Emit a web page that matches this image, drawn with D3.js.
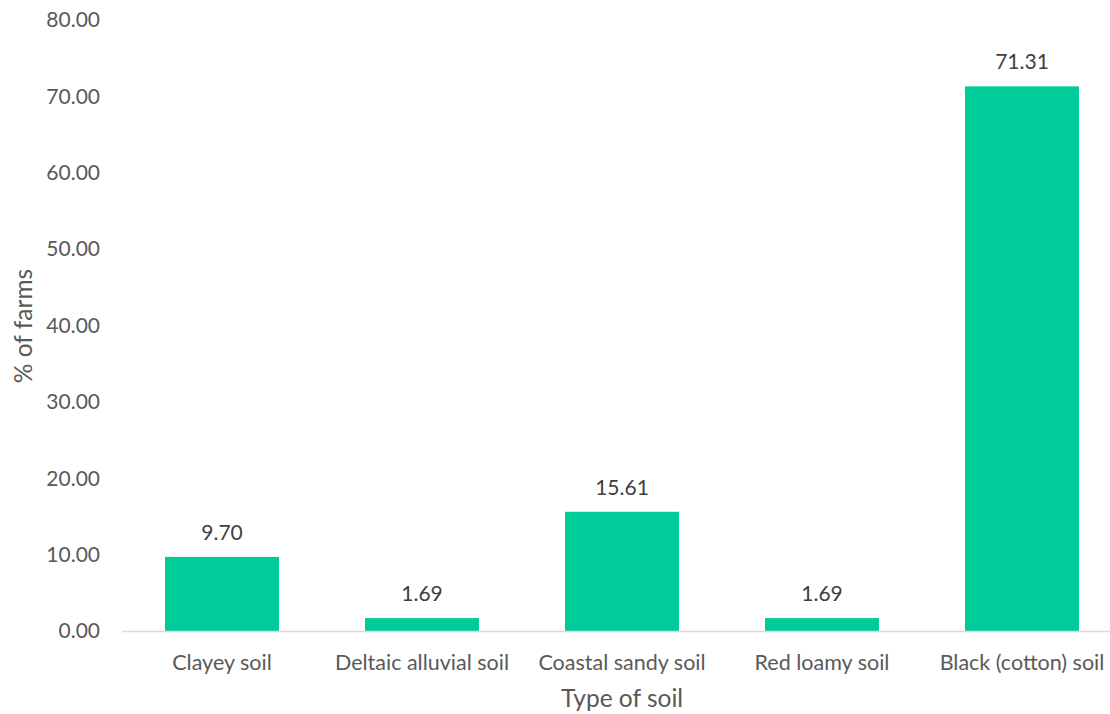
<!DOCTYPE html>
<html><head><meta charset="utf-8">
<script src="https://cdn.jsdelivr.net/npm/d3@7"></script>
<style>html,body{margin:0;padding:0;background:#fff;}</style>
</head><body>
<svg id="chart" width="1110" height="714"></svg>
<script>
const categories = ["Clayey soil","Deltaic alluvial soil","Coastal sandy soil","Red loamy soil","Black (cotton) soil"];
const values = [9.70, 1.69, 15.61, 1.69, 71.31];
const yTicks = [0,10,20,30,40,50,60,70,80];
const xTitle = "Type of soil";
const yTitle = "% of farms";

const font = "Lato, 'Open Sans', sans-serif";
const svg = d3.select("#chart");
const x = d3.scaleBand().domain(categories).range([122,1122]).paddingInner(0.43).paddingOuter(0.215);
const y = d3.scaleLinear().domain([0,80]).range([631,20]);

svg.append("g").selectAll("rect").data(values).join("rect")
  .attr("x",(d,i)=>x(categories[i])).attr("width",x.bandwidth())
  .attr("y",d=>y(d)).attr("height",d=>y(0)-y(d)).attr("fill","#00cc99");

svg.append("line").attr("x1",122).attr("x2",1110).attr("y1",y(0)+0.5).attr("y2",y(0)+0.5)
  .attr("stroke","#d9d9d9").attr("stroke-width",1.5);

svg.append("g").selectAll("text").data(yTicks).join("text")
  .attr("x",100).attr("y",d=>y(d)).attr("dy","0.35em").attr("text-anchor","end")
  .attr("font-family",font).attr("font-size",21).attr("fill","#595959")
  .text(d=>d.toFixed(2));

svg.append("g").selectAll("text").data(categories).join("text")
  .attr("x",d=>x(d)+x.bandwidth()/2).attr("y",670).attr("text-anchor","middle")
  .attr("font-family",font).attr("font-size",21.5).attr("fill","#595959")
  .text(d=>d);

svg.append("g").selectAll("text").data(values).join("text")
  .attr("x",(d,i)=>x(categories[i])+x.bandwidth()/2).attr("y",d=>y(d)-17).attr("text-anchor","middle")
  .attr("font-family",font).attr("font-size",21).attr("fill","#404040")
  .text(d=>d.toFixed(2));

svg.append("text").attr("x",622).attr("y",707).attr("text-anchor","middle")
  .attr("font-family",font).attr("font-size",24.5).attr("fill","#595959").text(xTitle);
svg.append("text").attr("transform","translate(32,326) rotate(-90)").attr("text-anchor","middle")
  .attr("font-family",font).attr("font-size",24.5).attr("fill","#595959").text(yTitle);
</script>
</body></html>
